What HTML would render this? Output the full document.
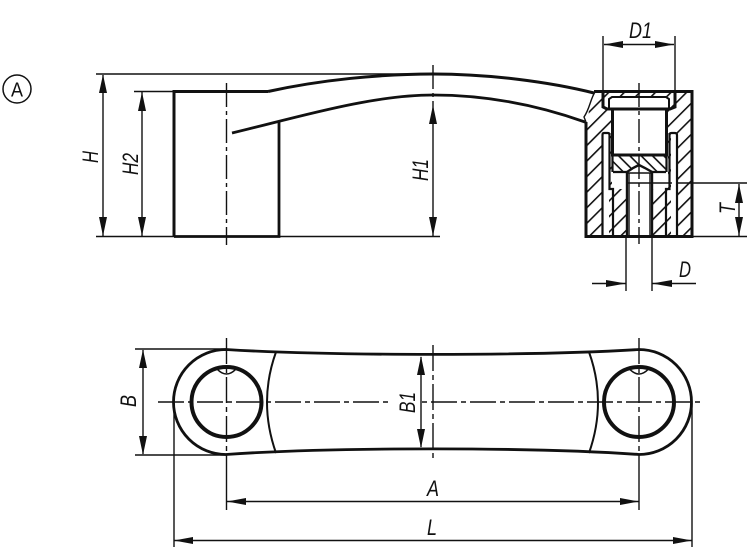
<!DOCTYPE html>
<html><head><meta charset="utf-8"><style>
html,body{margin:0;padding:0;background:#fff}
svg{display:block}
text{font-family:"Liberation Sans",sans-serif;font-style:italic;font-size:22px;fill:#111}
</style></head><body>
<svg width="750" height="552" viewBox="0 0 750 552" xmlns="http://www.w3.org/2000/svg">
<defs>
<pattern id="h" width="11" height="11" patternUnits="userSpaceOnUse" patternTransform="rotate(-45)"><rect width="11" height="1.600" fill="#111"/></pattern>
<pattern id="g" width="8" height="8" patternUnits="userSpaceOnUse" patternTransform="rotate(45)"><rect width="8" height="1.600" fill="#111"/></pattern>
</defs>

<!-- circled A -->
<circle cx="17" cy="89" r="14" fill="none" stroke="#111" stroke-width="1.500"/>
<text x="11" y="96.500" textLength="12" lengthAdjust="spacingAndGlyphs" style="font-style:normal;font-size:20px">A</text>

<!-- thin lines side view -->
<g stroke="#111" stroke-width="1.400" fill="none">
<path d="M96 74H433M134 91.500H174M96 236.500H174M279 236.500H440"/>
<path d="M103 75V236M142 92V236M433 106V236"/>
<path d="M603 36V91M675 36V91M604 44.500H674"/>
<path d="M626 236V291M652 236V291M592 283.500H626M652 283.500H696"/>
<path d="M652 183H747M692 236.500H747M739 184V236"/>
</g>
<g stroke="#111" stroke-width="1.400" fill="none" stroke-dasharray="24 4 4 4">
<path d="M226.500 83V245M433 65V106"/>
</g>

<!-- side view body -->
<g stroke="#111" fill="none">
<path d="M174 236.500V91.500H268" stroke-width="3"/>
<path d="M174 236.500H279V121" stroke-width="2.800"/>
<path d="M268 91.500C320 80 380 74 433 74C490 74 550 82 594 93" stroke-width="3"/>
<path d="M232 133C295 118 370 95 433 95C490 95 540 106 585 122" stroke-width="2.800"/>
</g>

<!-- section hatch -->
<path d="M603 92H692V236H677V133H671V236H666V189H668V109H612V189H613V236H602V133H608H602V236H586V122C592 115 584 108 597 92Z" fill="url(#h)"/>
<rect x="613" y="189" width="14" height="47" fill="url(#h)"/>
<rect x="652" y="189" width="14" height="47" fill="url(#h)"/>
<rect x="613" y="156" width="54" height="16" fill="url(#g)"/>
<rect x="627" y="173" width="3" height="63" fill="#555"/>
<rect x="649" y="173" width="3" height="63" fill="#555"/>

<g fill="#fff" stroke="none">
<rect x="603" y="133" width="6" height="103"/>
<rect x="672" y="133" width="5" height="103"/>
<rect x="613" y="109" width="53" height="46"/>
<rect x="630" y="175" width="19" height="61"/>
<path d="M630 175L632 170L639 165L646 170L649 175Z"/>
<rect x="609" y="98" width="60" height="10"/>
</g>

<!-- section outlines -->
<g stroke="#111" fill="none" stroke-width="3">
<path d="M594 91.500H692V236.500H586V122"/>
<path d="M603 92V107L607 109H670L675 107V92"/>
<path d="M609 108V99L612 97H666L669 99V108" stroke-width="2"/>
<path d="M612.500 109V155H666.500V109"/>
<path d="M609.500 133V189H613V236M669.500 133V189H666V236" stroke-width="2.200"/>
<path d="M602.500 236V135Q602.500 133 604 133H608Q609.500 133 609.500 135" stroke-width="2.200"/>
<path d="M677 236V135Q677 133 675 133H671.500Q669.500 133 669.500 135" stroke-width="2.200"/>
<path d="M613 172H627M652 172H666M612.500 155V172M666.500 155V172" stroke-width="2.200"/>
<path d="M627 236V172L633 168L639 165L645 168L652 172V236" stroke-width="2.400"/>
<path d="M627 183H652" stroke-width="1.400"/>
<path d="M628 173H651" stroke-width="1.400"/>
<path d="M595 92C590 100 590 108 584 117L586 122" stroke-width="1.400"/>
</g>
<path d="M639 83V244" stroke="#111" stroke-width="1.400" fill="none" stroke-dasharray="24 4 4 4"/>

<!-- dimension arrows side view -->
<g fill="#111">
<path d="M103 74.500L99 93H107ZM103 236L99 217H107Z"/>
<path d="M142 92L138 111H146ZM142 236L138 217H146Z"/>
<path d="M433 105L429 124H437ZM433 236L429 217H437Z"/>
<path d="M604 44.500L623 41V48ZM674 44.500L655 41V48Z"/>
<path d="M626 283.500L606 280V287ZM652 283.500L672 280V287Z"/>
<path d="M739 184L735 203H743ZM739 236L735 217H743Z"/>
</g>

<!-- plan view centre lines -->
<g stroke="#111" stroke-width="1.400" fill="none" stroke-dasharray="26 4 5 4">
<path d="M158 402H703"/>
<path d="M226.500 338V455M639 338V455M433 345V461"/>
</g>
<rect x="388" y="390" width="32" height="26" fill="#fff"/>

<!-- plan view thin lines -->
<g stroke="#111" stroke-width="1.400" fill="none">
<path d="M135 349H226M135 455H226"/>
<path d="M143 350V454M421 357V447"/>
<path d="M174 403V547M692 403V547"/>
<path d="M226.500 455V510M639 455V510"/>
<path d="M227 501.500H639M174 540.500H692"/>
</g>
<g fill="#111">
<path d="M143 349.500L139 368H147ZM143 455L139 436H147Z"/>
<path d="M421 356L417 375H425ZM421 448L417 429H425Z"/>
<path d="M227 501.500L246 498V505ZM639 501.500L620 498V505Z"/>
<path d="M174 540.500L193 537V544ZM692 540.500L673 537V544Z"/>
</g>

<!-- plan view shapes -->
<g stroke="#111" fill="none">
<path d="M226 349.500C330 356 536 356 639 349.500A52.500 52.500 0 0 1 639 454.500C536 447 330 447 226 454.500A52.500 52.500 0 0 1 226 349.500Z" stroke-width="2.800"/>
<circle cx="226.500" cy="402" r="35" stroke-width="4"/>
<circle cx="639" cy="402" r="35" stroke-width="4"/>
<path d="M276 352Q258 402 276 453M589 352Q607 402 589 453" stroke-width="2"/>
<path d="M217 369Q226.500 379 236 369M629.500 369Q639 379 648.500 369" stroke-width="1.600"/>
</g>

<!-- labels -->
<text x="629" y="38" textLength="23" lengthAdjust="spacingAndGlyphs">D1</text>
<text x="679" y="277" textLength="12" lengthAdjust="spacingAndGlyphs">D</text>
<text x="427" y="496" textLength="12" lengthAdjust="spacingAndGlyphs">A</text>
<text x="427" y="535" textLength="10" lengthAdjust="spacingAndGlyphs">L</text>
<text transform="translate(98,163) rotate(-90)" textLength="12" lengthAdjust="spacingAndGlyphs">H</text>
<text transform="translate(138,175) rotate(-90)" textLength="22" lengthAdjust="spacingAndGlyphs">H2</text>
<text transform="translate(428,181) rotate(-90)" textLength="22" lengthAdjust="spacingAndGlyphs">H1</text>
<text transform="translate(735,214) rotate(-90)" textLength="11" lengthAdjust="spacingAndGlyphs">T</text>
<text transform="translate(136,407) rotate(-90)" textLength="12" lengthAdjust="spacingAndGlyphs">B</text>
<text transform="translate(415,413) rotate(-90)" textLength="21" lengthAdjust="spacingAndGlyphs">B1</text>
</svg>
</body></html>
